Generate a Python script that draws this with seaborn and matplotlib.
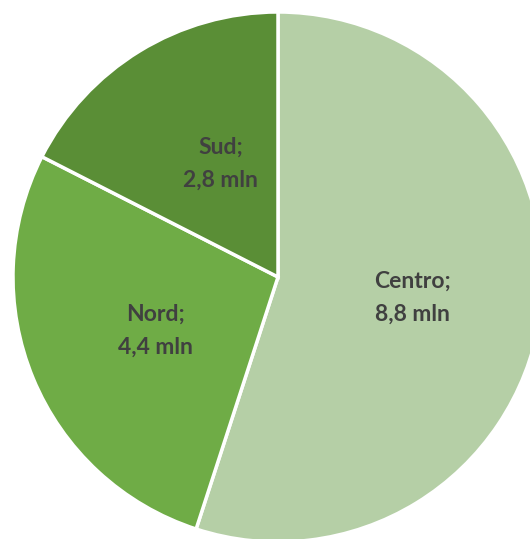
import matplotlib
matplotlib.use("Agg")
import matplotlib.pyplot as plt
import seaborn as sns

# Data
regions = ["Centro", "Nord", "Sud"]
values = [8.8, 4.4, 2.8]
labels = ["Centro;\n8,8 mln", "Nord;\n4,4 mln", "Sud;\n2,8 mln"]
colors = ["#B5CFA6", "#6FAC46", "#5A8E36"]

sns.set_style("white")
plt.rcParams["font.family"] = ["Lato", "DejaVu Sans"]

fig = plt.figure(figsize=(5.30, 5.39), dpi=100)
# place the pie so that it is cut off at the right and bottom like the reference
ax = fig.add_axes([13 / 530, (539 - 277 - 265) / 539, 530 / 530, 530 / 539])

wedges, texts = ax.pie(
    values,
    labels=labels,
    colors=colors,
    startangle=90,
    counterclock=False,
    labeldistance=0.5,
    wedgeprops={"edgecolor": "white", "linewidth": 2.5},
    textprops={"fontsize": 16.5, "fontweight": "bold", "color": "#404040"},
)
for t in texts:
    t.set_ha("center")
    t.set_va("center")
    t.set_linespacing(1.7)

# small nudges so the labels sit where they are in the original
nudges = {"Centro": (0.015, 0.0), "Nord": (0.0, -0.01), "Sud": (0.045, 0.0)}
for t, r in zip(texts, regions):
    x, y = t.get_position()
    dx, dy = nudges[r]
    t.set_position((x + dx, y + dy))

ax.set_xlim(-1, 1)
ax.set_ylim(-1, 1)
ax.set_aspect("equal")
ax.axis("off")

fig.savefig("out.png", dpi=100)
